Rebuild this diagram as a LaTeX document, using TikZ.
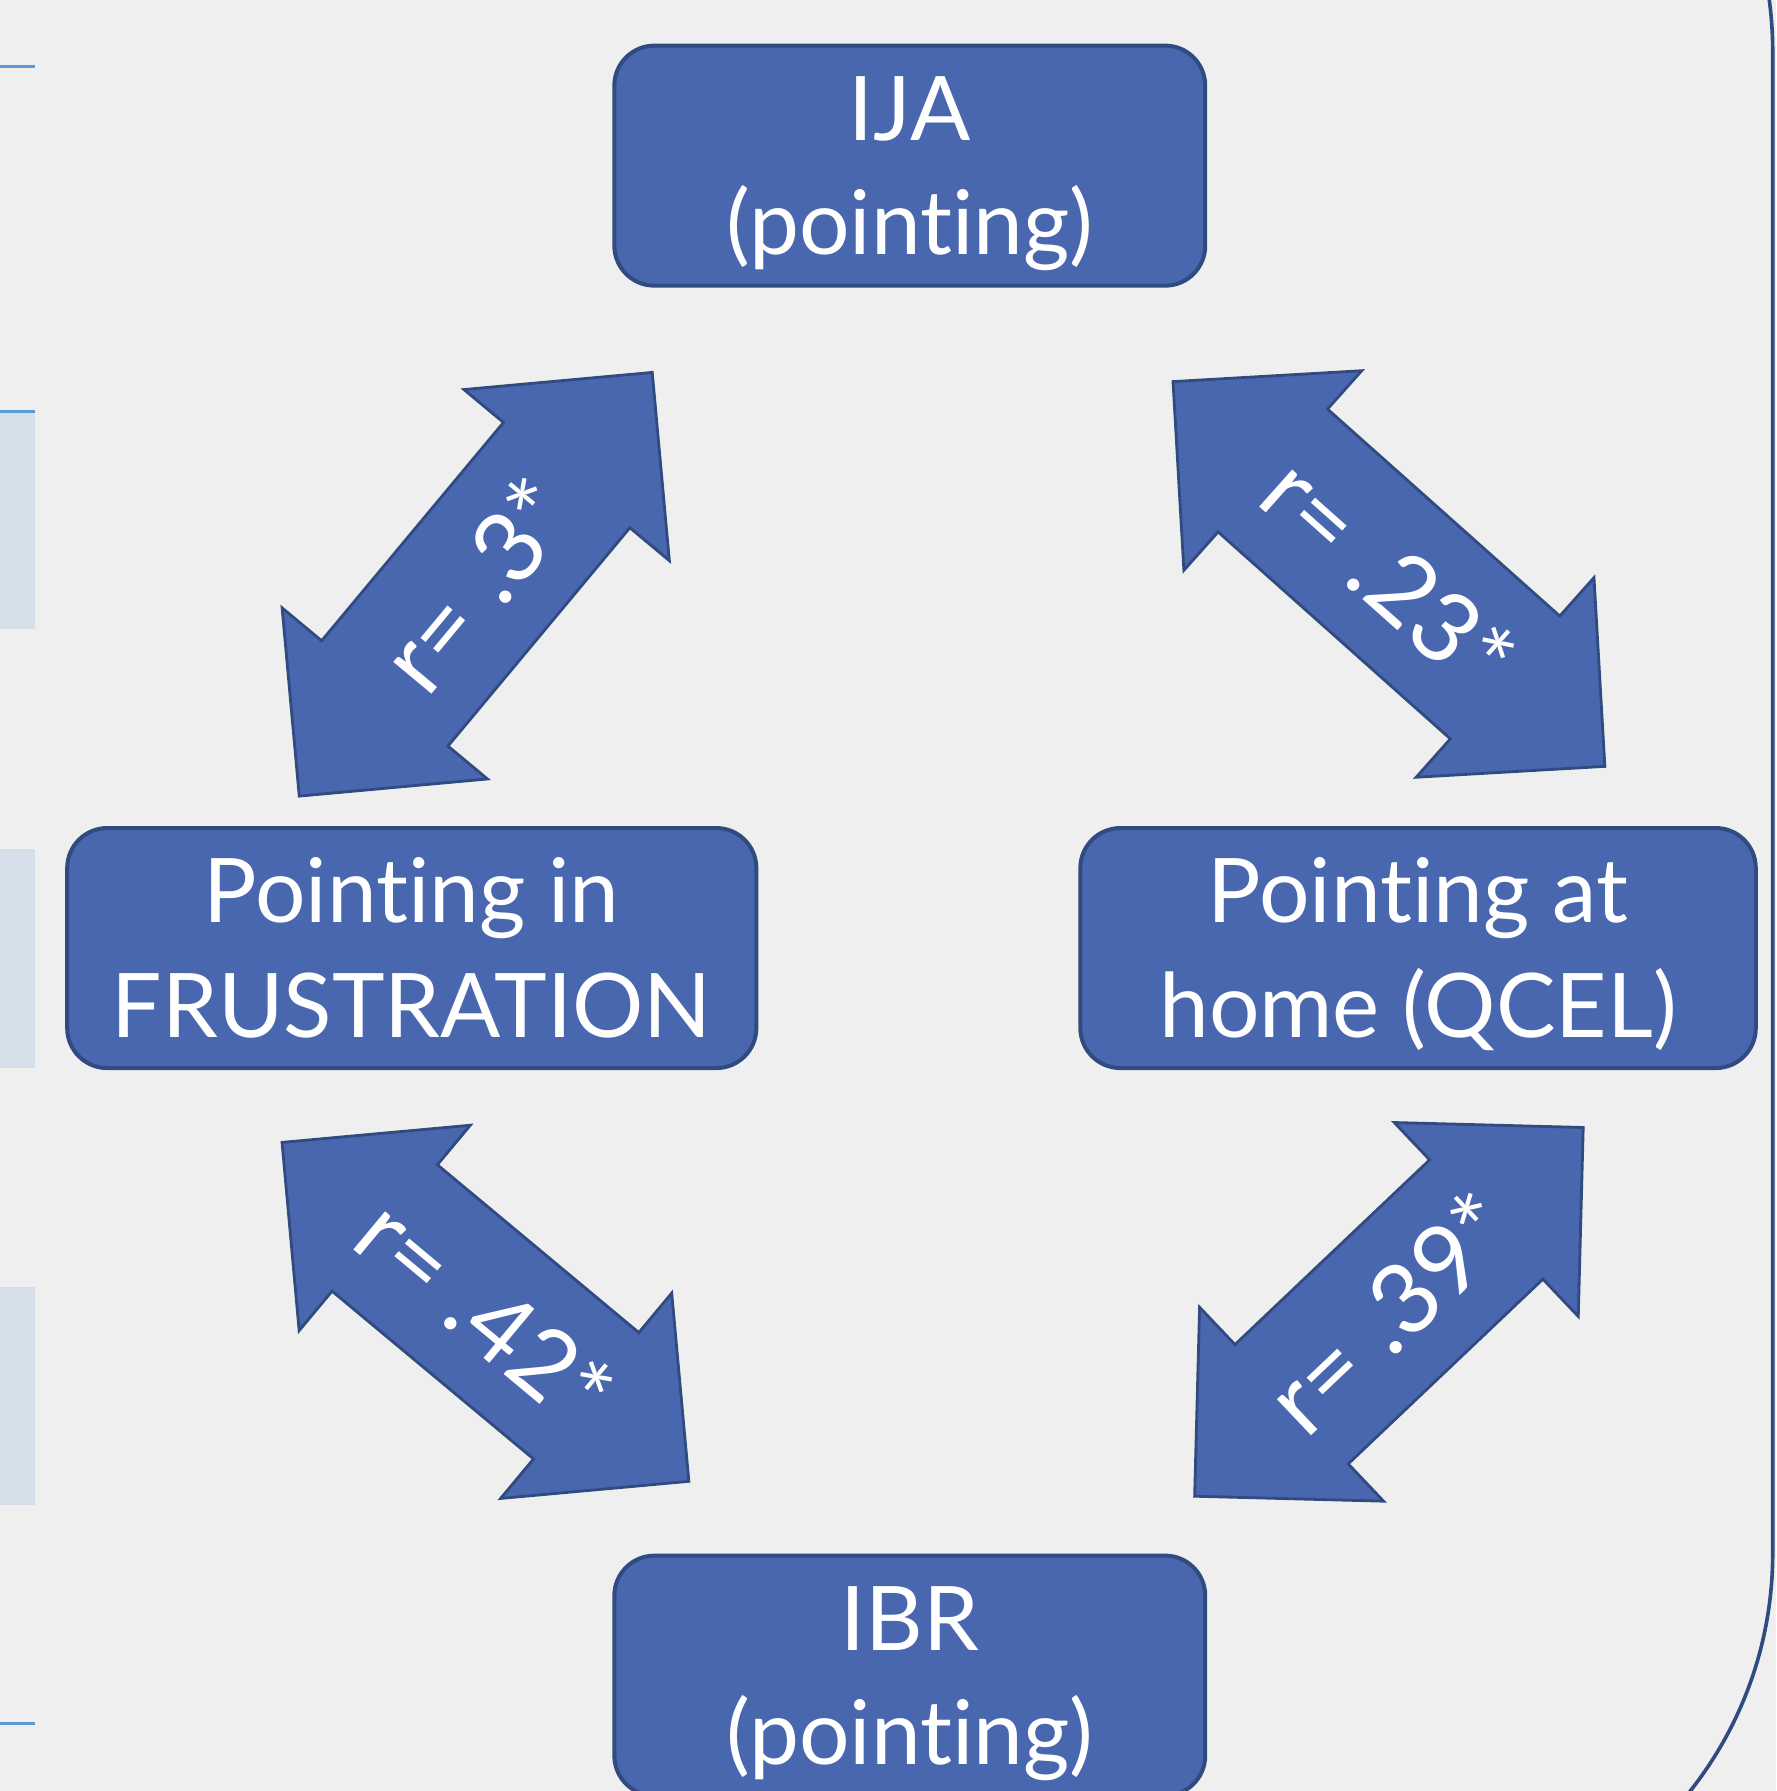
\documentclass[tikz,border=0pt]{standalone}
\usepackage{fontspec}
\setmainfont{Lato}[Ligatures=NoCommon]
\definecolor{paper}{HTML}{EFEFEF}
\definecolor{stage fill}{HTML}{4967AE}
\definecolor{stage edge}{HTML}{2F4B80}
\definecolor{strip}{HTML}{D5DFE9}
\definecolor{strip edge}{HTML}{5B9BD5}
\tikzset{
  stage/.style={draw=stage edge, line width=1pt, fill=stage fill, rounded corners=0.35cm,
    text=white, align=center, inner sep=0pt, minimum height=2.1cm,
    font=\fontsize{22.2}{28.45}\selectfont},
  corr arrow/.style={draw=stage edge, line width=0.7pt, fill=stage fill, line join=miter},
  corr label/.style={text=white, inner sep=0pt, font=\fontsize{24.4}{30}\selectfont},
}
\newcommand\twolines[2]{\rule{0pt}{0.76cm}#1\\#2\rule[-0.2cm]{0pt}{0.2cm}}
\newcommand\corrarrow[4]{%
  \begin{scope}[shift={(#1)}, rotate=#2]
    \draw[corr arrow] (#3,0) -- ++(-117,117) -- ++(0,-45) -- (-#3+117,72) -- ++(0,45) -- (-#3,0)
      -- ++(117,-117) -- ++(0,45) -- (#3-117,-72) -- ++(0,-45) -- cycle;
  \end{scope}
  \node[corr label, rotate=#2] (#1-r) at (#1) {#4};
}
\begin{document}
\begin{tikzpicture}[x=0.01cm, y=-0.01cm]
  \useasboundingbox (0,0) rectangle (1555,1568);
  \fill[paper] (0,0) rectangle (1555,1568);
  \clip (0,0) rectangle (1555,1568);
  % left strips
  \fill[strip] (0,360) rectangle (31,551);
  \fill[strip] (0,743) rectangle (31,935);
  \fill[strip] (0,1127) rectangle (31,1318);
  \draw[strip edge, line width=0.7pt] (0,58) -- (31,58);
  \draw[strip edge, line width=0.7pt] (0,360) -- (31,360);
  \draw[strip edge, line width=0.7pt] (0,1509) -- (31,1509);
  % frame
  \draw[stage edge, line width=0.9pt, rounded corners=3.36cm] (-600,-291) rectangle (1552,1696);
  % stages
  \node[stage, minimum width=5.17cm] (ija) at (796.5,145) {\twolines{IJA}{(pointing)}};
  \node[stage, minimum width=6.03cm] (frustration) at (360.5,830) {\twolines{Pointing in}{FRUSTRATION}};
  \node[stage, minimum width=5.91cm] (qcel) at (1241.5,830) {\twolines{Pointing at}{home (QCEL)}};
  \node[stage, minimum width=5.17cm] (ibr) at (796.5,1467) {\twolines{IBR}{(pointing)}};
  % correlations
  \coordinate (ija-frus) at (416.5,511.5);
  \coordinate (ija-qcel) at (1216,502.5);
  \coordinate (frus-ibr) at (425,1148.5);
  \coordinate (qcel-ibr) at (1216,1148.5);
  \corrarrow{ija-frus}{50.2}{241.4}{r= .3*}
  \corrarrow{ija-qcel}{-41.7}{253.2}{r= .23*}
  \corrarrow{frus-ibr}{-39.8}{231.8}{r= .42*}
  \corrarrow{qcel-ibr}{43.5}{234.5}{r= .39*}
\end{tikzpicture}
\end{document}
